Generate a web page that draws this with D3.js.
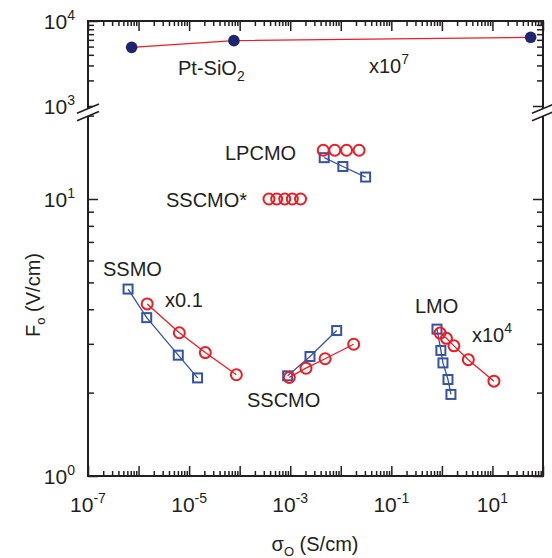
<!DOCTYPE html>
<html>
<head>
<meta charset="utf-8">
<script src="https://cdn.jsdelivr.net/npm/d3@7"></script>
<style>
body { margin: 0; background: #fff; }
text { font-family: "Liberation Sans", Arial, sans-serif; fill: #231f20; }
</style>
</head>
<body>
<div id="chart"></div>
<script>
// values (sigma in S/cm, field in V/cm)
var ptSigma = [7.3e-7, 7.7e-5, 57];
var ptField = [4900, 5870, 6430];

var ssmoSqSigma = [6.2e-7, 1.45e-6, 6.1e-6, 1.47e-5];
var ssmoSqField = [4.73, 3.73, 2.73, 2.26];
var ssmoCiSigma = [1.48e-6, 6.4e-6, 2.09e-5, 8.6e-5];
var ssmoCiField = [4.18, 3.29, 2.79, 2.32];

var sscmoSqSigma = [8.9e-4, 2.46e-3, 8.3e-3];
var sscmoSqField = [2.30, 2.70, 3.35];
var sscmoCiSigma = [9.6e-4, 2.05e-3, 4.9e-3, 1.8e-2];
var sscmoCiField = [2.27, 2.45, 2.65, 2.99];

var sscmoStarSigma = [3.8e-4, 5.4e-4, 7.8e-4, 1.1e-3, 1.6e-3];
var sscmoStarField = [10, 10, 10, 10, 10];

var lpcmoCiSigma = [4.5e-3, 7.6e-3, 1.3e-2, 2.3e-2];
var lpcmoCiField = [15, 15, 15, 15];
var lpcmoSqSigma = [4.7e-3, 1.1e-2, 3.1e-2];
var lpcmoSqField = [14.1, 13.1, 12.0];

var lmoSqSigma = [0.80, 0.955, 1.05, 1.32, 1.51];
var lmoSqField = [3.39, 2.84, 2.56, 2.23, 1.97];
var lmoCiSigma = [0.92, 1.23, 1.73, 3.33, 10.7];
var lmoCiField = [3.28, 3.14, 2.95, 2.63, 2.20];

var xDomain = [1e-7, 1e2];
var xLabelValues = [1e-7, 1e-5, 1e-3, 1e-1, 1e1];
var xLabelExps = ['-7', '-5', '-3', '-1', '1'];
var lowerDomain = [1, 20];
var upperDomain = [1e3, 1e4];
var yLabelValues = [1, 10, 1e3, 1e4];
var yLabelExps = ['0', '1', '3', '4'];

var red = '#ed1c24';
var blue = '#3553a4';
var navy = '#1e2570';

var frame = {left: 88, right: 543, top: 21, bottom: 476};
var decadePx = 277;

var zip = function zip(xs, ys) {
    return xs.map(function(v, i) { return [v, ys[i]]; });
};

var createGraph = function createGraph() {
    var svg = d3.select('#chart').append('svg')
                .attr('width', 552)
                .attr('height', 558);

    var x = d3.scaleLog().domain(xDomain).range([frame.left, frame.right]);
    var yLow = d3.scaleLog().domain(lowerDomain)
                 .range([frame.bottom, frame.bottom - decadePx * Math.log10(lowerDomain[1])]);
    var yUp = d3.scaleLog().domain(upperDomain).range([106, frame.top]);

    createAxis(svg, x, yLow, yUp);
    createSeries(svg, x, yLow, yUp);
    createLabels(svg);
};

var tickGroup = function tickGroup(svg, axis, tx, ty) {
    var g = svg.append('g')
               .attr('transform', 'translate(' + tx + ',' + ty + ')')
               .call(axis);
    g.select('.domain').remove();
    g.selectAll('text').remove();
    g.selectAll('line').attr('stroke', '#231f20').attr('stroke-width', 1.5);
    return g;
};

var isMajor = function isMajor(v) {
    var e = Math.log10(v);
    return Math.abs(e - Math.round(e)) < 1e-6;
};

var createAxis = function createAxis(svg, x, yLow, yUp) {
    var xTicks = x.ticks();
    var xMajor = xTicks.filter(isMajor);
    var xMinor = xTicks.filter(function(v) { return !isMajor(v); });

    [[d3.axisBottom, frame.bottom], [d3.axisTop, frame.top]].forEach(function(p) {
        tickGroup(svg, p[0](x).tickValues(xMinor).tickSizeOuter(0).tickSizeInner(-5), 0, p[1]);
        tickGroup(svg, p[0](x).tickValues(xMajor).tickSizeOuter(0).tickSizeInner(-10), 0, p[1]);
    });

    [yLow, yUp].forEach(function(y) {
        var t = y.ticks();
        var major = t.filter(isMajor);
        var minor = t.filter(function(v) { return !isMajor(v); });
        [[d3.axisLeft, frame.left], [d3.axisRight, frame.right]].forEach(function(p) {
            tickGroup(svg, p[0](y).tickValues(minor).tickSizeOuter(0).tickSizeInner(-6), p[1], 0);
            tickGroup(svg, p[0](y).tickValues(major).tickSizeOuter(0).tickSizeInner(-10), p[1], 0);
        });
    });

    // frame
    svg.append('rect')
       .attr('x', frame.left).attr('y', frame.top)
       .attr('width', frame.right - frame.left)
       .attr('height', frame.bottom - frame.top)
       .attr('fill', 'none')
       .attr('stroke', '#231f20')
       .attr('stroke-width', 2);

    // axis break marks on both sides
    [frame.left, frame.right].forEach(function(cx) {
        svg.append('polygon')
           .attr('points', [[cx - 11, 113.3], [cx + 11, 104], [cx + 11, 111.7], [cx - 11, 121]].join(' '))
           .attr('fill', '#fff');
        [0, 7.5].forEach(function(dy) {
            svg.append('line')
               .attr('x1', cx - 11).attr('y1', 113.3 + dy)
               .attr('x2', cx + 11).attr('y2', 104 + dy)
               .attr('stroke', '#231f20')
               .attr('stroke-width', 1.6);
        });
    });

    // tick labels
    xLabelValues.forEach(function(v, i) {
        var t = svg.append('text')
                   .attr('x', x(v)).attr('y', 512)
                   .attr('text-anchor', 'middle')
                   .attr('font-size', 21);
        t.append('tspan').text('10');
        t.append('tspan').attr('font-size', 14).attr('dy', -9).text(xLabelExps[i]);
    });

    yLabelValues.forEach(function(v, i) {
        var yy = v >= 1e3 ? yUp(v) : yLow(v);
        var t = svg.append('text')
                   .attr('x', 75).attr('y', yy + 8)
                   .attr('text-anchor', 'end')
                   .attr('font-size', 21);
        t.append('tspan').text('10');
        t.append('tspan').attr('font-size', 14).attr('dy', -9).text(yLabelExps[i]);
    });

    // axis titles
    var xt = svg.append('text')
                .attr('x', 315).attr('y', 551)
                .attr('text-anchor', 'middle')
                .attr('font-size', 20);
    xt.append('tspan').text('σ');
    xt.append('tspan').attr('font-size', 13).attr('dy', 5).text('O');
    xt.append('tspan').attr('dy', -5).text(' (S/cm)');

    var yt = svg.append('text')
                .attr('transform', 'translate(40,295) rotate(-90)')
                .attr('text-anchor', 'middle')
                .attr('font-size', 20);
    yt.append('tspan').text('F');
    yt.append('tspan').attr('font-size', 13).attr('dy', 5).text('o');
    yt.append('tspan').attr('dy', -5).text(' (V/cm)');
};

var drawLine = function drawLine(svg, pts, x, y, color) {
    svg.append('path')
       .datum(pts)
       .attr('fill', 'none')
       .attr('stroke', color)
       .attr('stroke-width', 1.3)
       .attr('d', d3.line().x(function(d) { return x(d[0]); }).y(function(d) { return y(d[1]); }));
};

var drawSquares = function drawSquares(svg, pts, x, y) {
    svg.append('g').selectAll('rect')
       .data(pts)
       .enter().append('rect')
           .attr('x', function(d) { return x(d[0]) - 4.5; })
           .attr('y', function(d) { return y(d[1]) - 4.5; })
           .attr('width', 9).attr('height', 9)
           .attr('fill', 'none')
           .attr('stroke', blue)
           .attr('stroke-width', 2);
};

var drawCircles = function drawCircles(svg, pts, x, y) {
    svg.append('g').selectAll('circle')
       .data(pts)
       .enter().append('circle')
           .attr('cx', function(d) { return x(d[0]); })
           .attr('cy', function(d) { return y(d[1]); })
           .attr('r', 5.5)
           .attr('fill', 'none')
           .attr('stroke', red)
           .attr('stroke-width', 2);
};

var createSeries = function createSeries(svg, x, yLow, yUp) {
    var squareSets = [zip(ssmoSqSigma, ssmoSqField), zip(sscmoSqSigma, sscmoSqField),
                      zip(lpcmoSqSigma, lpcmoSqField), zip(lmoSqSigma, lmoSqField)];
    var circleSets = [zip(ssmoCiSigma, ssmoCiField), zip(sscmoCiSigma, sscmoCiField),
                      zip(lmoCiSigma, lmoCiField)];

    squareSets.forEach(function(s) {
        drawLine(svg, s, x, yLow, blue);
        drawSquares(svg, s, x, yLow);
    });
    circleSets.forEach(function(s) {
        drawLine(svg, s, x, yLow, red);
        drawCircles(svg, s, x, yLow);
    });
    drawCircles(svg, zip(lpcmoCiSigma, lpcmoCiField), x, yLow);
    drawCircles(svg, zip(sscmoStarSigma, sscmoStarField), x, yLow);

    var pt = zip(ptSigma, ptField);
    drawLine(svg, pt, x, yUp, red);
    svg.append('g').selectAll('circle')
       .data(pt)
       .enter().append('circle')
           .attr('cx', function(d) { return x(d[0]); })
           .attr('cy', function(d) { return yUp(d[1]); })
           .attr('r', 5.8)
           .attr('fill', navy);
};

var addText = function addText(svg, xx, yy, parts) {
    var t = svg.append('text').attr('x', xx).attr('y', yy).attr('font-size', 20);
    parts.forEach(function(p) {
        var s = t.append('tspan').text(p[0]);
        if (p[1] === 'sup') s.attr('font-size', 14).attr('dy', -9);
        if (p[1] === 'sub') s.attr('font-size', 14).attr('dy', 6);
    });
};

var createLabels = function createLabels(svg) {
    addText(svg, 178, 75, [['Pt-SiO'], ['2', 'sub']]);
    addText(svg, 369, 73, [['x10'], ['7', 'sup']]);
    addText(svg, 225, 160, [['LPCMO']]);
    addText(svg, 166, 207, [['SSCMO*']]);
    addText(svg, 103, 276, [['SSMO']]);
    addText(svg, 165, 307, [['x0.1']]);
    addText(svg, 247, 407, [['SSCMO']]);
    addText(svg, 415, 313, [['LMO']]);
    addText(svg, 472, 342, [['x10'], ['4', 'sup']]);
};

createGraph();
</script>
</body>
</html>
